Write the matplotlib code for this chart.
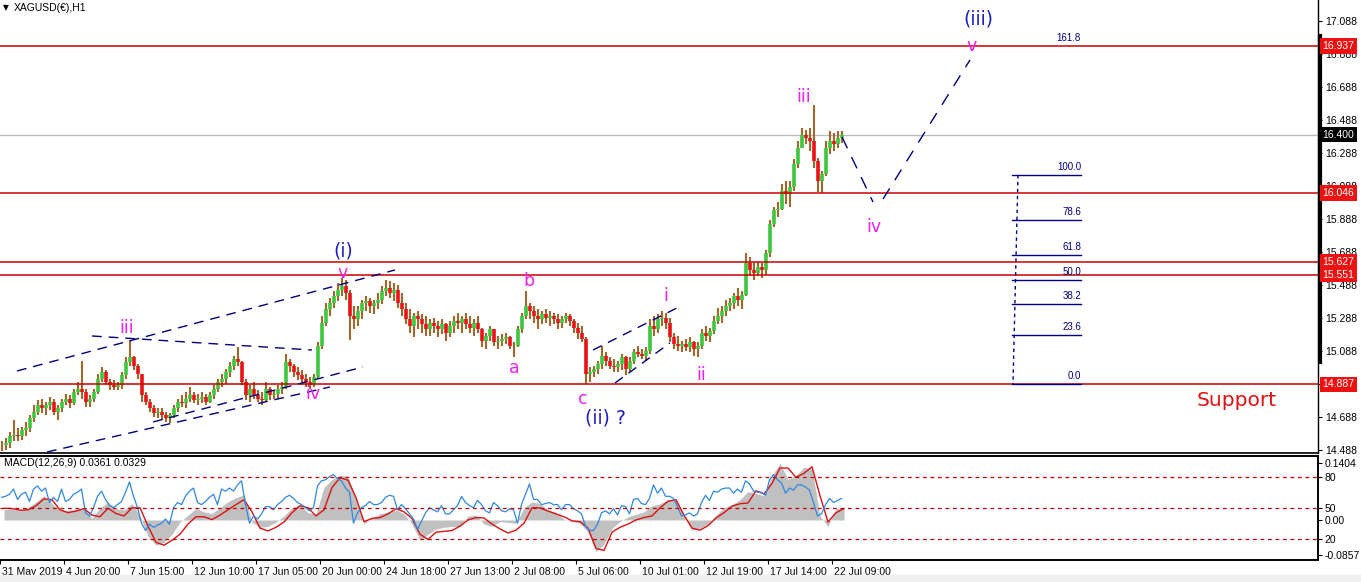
import numpy as np
import matplotlib
matplotlib.use('Agg')
import matplotlib.pyplot as plt
import matplotlib.transforms as mtransforms

# ---- price data: one entry per 4 hourly bars ----
bar_step = 4
high = [14.54, 14.56, 14.60, 14.67, 14.62, 14.63, 14.66, 14.70, 14.76, 14.79,
        14.80, 14.78, 14.81, 14.80, 14.76, 14.80, 14.83, 14.82, 14.86, 14.90,
        15.03, 14.86, 14.82, 14.86, 14.95, 14.99, 14.97, 14.92, 14.91, 14.90,
        14.96, 15.05, 15.155, 15.06, 15.01, 14.95, 14.84, 14.80, 14.76, 14.74,
        14.74, 14.72, 14.71, 14.76, 14.80, 14.82, 14.84, 14.87, 14.84, 14.83,
        14.84, 14.83, 14.84, 14.88, 14.92, 14.95, 14.98, 15.02, 15.06, 15.11,
        15.03, 14.92, 14.88, 14.90, 14.85, 14.84, 14.90, 14.87, 14.85, 14.88,
        14.90, 15.07, 15.04, 15.01, 14.99, 14.97, 14.95, 14.93, 14.95, 15.14,
        15.30, 15.38, 15.41, 15.45, 15.50, 15.53, 15.52, 15.46, 15.36, 15.36,
        15.40, 15.42, 15.41, 15.40, 15.44, 15.48, 15.52, 15.51, 15.50, 15.49,
        15.44, 15.38, 15.34, 15.32, 15.33, 15.31, 15.30, 15.28, 15.29, 15.27,
        15.28, 15.26, 15.27, 15.30, 15.32, 15.30, 15.32, 15.30, 15.28, 15.30,
        15.23, 15.20, 15.24, 15.20, 15.18, 15.19, 15.20, 15.18, 15.14, 15.24,
        15.32, 15.45, 15.38, 15.36, 15.34, 15.33, 15.34, 15.33, 15.32, 15.31,
        15.30, 15.32, 15.31, 15.28, 15.26, 15.24, 15.17, 14.99, 15.00, 15.03,
        15.12, 15.08, 15.05, 15.04, 15.03, 15.07, 15.06, 15.05, 15.10, 15.12,
        15.10, 15.11, 15.28, 15.30, 15.31, 15.33, 15.32, 15.29, 15.20, 15.18,
        15.15, 15.16, 15.17, 15.15, 15.14, 15.22, 15.24, 15.23, 15.30, 15.35,
        15.36, 15.40, 15.41, 15.44, 15.47, 15.45, 15.68, 15.66, 15.62, 15.63,
        15.62, 15.70, 15.88, 15.96, 15.99, 16.10, 16.12, 16.12, 16.25, 16.36,
        16.44, 16.43, 16.44, 16.58, 16.26, 16.18, 16.36, 16.42, 16.41, 16.42,
        16.42]
low = [14.48, 14.49, 14.50, 14.54, 14.54, 14.55, 14.57, 14.60, 14.66, 14.70,
       14.71, 14.70, 14.73, 14.70, 14.67, 14.72, 14.76, 14.74, 14.76, 14.82,
       14.80, 14.75, 14.75, 14.78, 14.83, 14.90, 14.88, 14.85, 14.85, 14.85,
       14.86, 14.92, 15.00, 14.97, 14.92, 14.78, 14.76, 14.72, 14.69, 14.68,
       14.67, 14.66, 14.65, 14.68, 14.72, 14.75, 14.74, 14.78, 14.77, 14.76,
       14.77, 14.76, 14.77, 14.80, 14.84, 14.87, 14.89, 14.93, 14.97, 15.00,
       14.88, 14.79, 14.78, 14.80, 14.78, 14.76, 14.78, 14.79, 14.80, 14.80,
       14.83, 14.86, 14.96, 14.93, 14.91, 14.88, 14.87, 14.86, 14.87, 14.92,
       15.10, 15.24, 15.30, 15.35, 15.39, 15.42, 15.40, 15.155, 15.22, 15.24,
       15.28, 15.33, 15.32, 15.31, 15.34, 15.37, 15.42, 15.41, 15.39, 15.35,
       15.30, 15.25, 15.20, 15.17, 15.22, 15.20, 15.18, 15.18, 15.20, 15.17,
       15.19, 15.15, 15.17, 15.20, 15.22, 15.20, 15.22, 15.20, 15.18, 15.20,
       15.11, 15.10, 15.15, 15.12, 15.10, 15.12, 15.13, 15.10, 15.05, 15.11,
       15.20, 15.28, 15.28, 15.26, 15.22, 15.25, 15.26, 15.24, 15.25, 15.22,
       15.23, 15.26, 15.24, 15.20, 15.16, 15.14, 14.89, 14.90, 14.93, 14.95,
       14.98, 15.00, 14.98, 14.96, 14.96, 14.97, 14.94, 14.96, 15.01, 15.05,
       15.04, 15.03, 15.07, 15.18, 15.20, 15.24, 15.22, 15.14, 15.10, 15.09,
       15.08, 15.09, 15.08, 15.06, 15.05, 15.10, 15.15, 15.14, 15.19, 15.25,
       15.26, 15.30, 15.33, 15.34, 15.36, 15.34, 15.42, 15.54, 15.52, 15.54,
       15.53, 15.55, 15.66, 15.84, 15.90, 15.94, 15.98, 15.96, 16.06, 16.20,
       16.32, 16.34, 16.30, 16.20, 16.05, 16.046, 16.15, 16.28, 16.30, 16.32,
       16.35]
close = [14.52, 14.53, 14.57, 14.58, 14.57, 14.61, 14.62, 14.68, 14.72, 14.76,
         14.74, 14.76, 14.78, 14.72, 14.74, 14.78, 14.80, 14.77, 14.84, 14.86,
         14.84, 14.78, 14.80, 14.84, 14.92, 14.96, 14.90, 14.88, 14.87, 14.88,
         14.94, 15.02, 15.05, 15.00, 14.95, 14.82, 14.78, 14.74, 14.71, 14.72,
         14.70, 14.68, 14.70, 14.74, 14.78, 14.77, 14.80, 14.82, 14.79, 14.80,
         14.81, 14.78, 14.82, 14.86, 14.90, 14.92, 14.96, 15.00, 15.04, 15.02,
         14.90, 14.82, 14.86, 14.82, 14.80, 14.79, 14.86, 14.82, 14.83, 14.86,
         14.87, 15.02, 15.00, 14.96, 14.94, 14.92, 14.90, 14.88, 14.93, 15.12,
         15.26, 15.34, 15.38, 15.42, 15.46, 15.48, 15.44, 15.30, 15.28, 15.33,
         15.38, 15.39, 15.36, 15.38, 15.40, 15.45, 15.47, 15.44, 15.46, 15.38,
         15.34, 15.28, 15.24, 15.30, 15.28, 15.25, 15.22, 15.26, 15.24, 15.22,
         15.25, 15.20, 15.24, 15.27, 15.26, 15.28, 15.25, 15.23, 15.26, 15.22,
         15.15, 15.18, 15.22, 15.14, 15.15, 15.16, 15.17, 15.12, 15.12, 15.22,
         15.30, 15.36, 15.33, 15.30, 15.28, 15.31, 15.29, 15.30, 15.28, 15.26,
         15.28, 15.30, 15.27, 15.23, 15.20, 15.16, 14.95, 14.96, 14.98, 15.01,
         15.06, 15.03, 15.00, 14.99, 15.01, 15.05, 14.98, 15.03, 15.08, 15.07,
         15.06, 15.09, 15.24, 15.22, 15.28, 15.29, 15.26, 15.17, 15.13, 15.12,
         15.13, 15.11, 15.14, 15.10, 15.12, 15.20, 15.18, 15.21, 15.27, 15.30,
         15.33, 15.36, 15.38, 15.42, 15.40, 15.43, 15.62, 15.58, 15.56, 15.60,
         15.58, 15.68, 15.86, 15.94, 15.95, 16.06, 16.04, 16.08, 16.22, 16.32,
         16.40, 16.38, 16.36, 16.24, 16.12, 16.16, 16.32, 16.36, 16.34, 16.38,
         16.40]

# MACD histogram and signal line, one value per 8 bars
macd_step = 8
macd_main = [0.025, 0.026, 0.024, 0.030, 0.045, 0.060, 0.040, 0.025, 0.024, 0.026,
             0.030, 0.004, 0.030, 0.044, 0.028, 0.025, 0.040, 0.010, -0.040, -0.062,
             -0.055, -0.035, -0.005, 0.012, 0.028, 0.020, 0.016, 0.030, 0.045, 0.055,
             0.062, -0.005, -0.018, -0.016, -0.005, 0.010, 0.030, 0.038, 0.018, 0.015,
             0.080, 0.100, 0.110, 0.108, 0.050, -0.010, 0.005, 0.015, 0.020, 0.025,
             0.015, -0.010, -0.050, -0.035, -0.022, -0.018, -0.016, -0.016, 0.010, 0.012,
             -0.010, -0.016, -0.004, -0.006, -0.008, 0.030, 0.045, 0.040, 0.025, 0.018,
             0.002, -0.004, -0.008, -0.030, -0.078, -0.060, -0.020, -0.004, 0.008, 0.014,
             0.020, 0.035, 0.040, 0.050, 0.052, 0.010, -0.025, -0.020, -0.010, 0.012,
             0.030, 0.038, 0.050, 0.070, 0.065, 0.060, 0.110, 0.140, 0.100, 0.110,
             0.130, 0.125, 0.010, -0.016, 0.028, 0.030]
macd_signal = [0.029, 0.028, 0.024, 0.025, 0.035, 0.052, 0.050, 0.025, 0.018, 0.022,
               0.028, 0.012, 0.008, 0.029, 0.016, 0.010, 0.030, 0.030, -0.015, -0.055,
               -0.062, -0.050, -0.035, -0.010, 0.008, 0.008, 0.001, 0.012, 0.025, 0.038,
               0.050, 0.020, -0.020, -0.027, -0.018, -0.005, 0.018, 0.035, 0.030, 0.010,
               0.025, 0.080, 0.104, 0.098, 0.055, -0.004, 0.004, 0.006, 0.015, 0.028,
               0.020, 0.004, -0.035, -0.048, -0.030, -0.028, -0.026, -0.015, 0.000, 0.006,
               0.005, -0.010, -0.022, -0.032, -0.025, -0.008, 0.030, 0.030, 0.022, 0.015,
               0.008, -0.002, -0.004, -0.020, -0.070, -0.075, -0.030, -0.018, -0.010, 0.000,
               0.006, 0.010, 0.030, 0.046, 0.050, 0.012, -0.020, -0.025, -0.014, 0.005,
               0.018, 0.034, 0.040, 0.042, 0.072, 0.064, 0.090, 0.128, 0.128, 0.105,
               0.115, 0.131, 0.060, -0.005, 0.018, 0.028]

# oscillator (blue) on the 0..100 scale, one value per 4 bars
osc = [60, 61, 63, 68, 58, 63, 65, 56, 68, 71, 66, 69, 55, 60, 56, 68, 56, 58, 63, 65,
       68, 45, 42, 50, 61, 66, 58, 52, 50, 53, 56, 65, 75, 61, 50, 35, 28, 34, 31, 33,
       35, 39, 34, 50, 55, 53, 61, 66, 69, 55, 53, 56, 60, 63, 53, 68, 66, 69, 66, 72,
       76, 53, 35, 42, 39, 44, 51, 51, 48, 53, 56, 60, 62, 59, 55, 53, 50, 47, 50, 71,
       76, 77, 80, 82, 78, 76, 69, 65, 35, 45, 50, 52, 56, 53, 53, 55, 60, 62, 61, 48,
       53, 49, 44, 39, 29, 37, 45, 50, 48, 46, 52, 44, 44, 48, 52, 61, 55, 52, 50, 57,
       53, 47, 45, 55, 52, 47, 46, 49, 48, 35, 53, 63, 73, 58, 58, 53, 54, 55, 53, 53,
       48, 53, 53, 49, 47, 44, 32, 28, 28, 34, 45, 47, 44, 49, 43, 52, 51, 44, 58, 59,
       54, 53, 59, 72, 64, 69, 61, 61, 59, 51, 42, 43, 45, 42, 44, 55, 62, 57, 66, 65,
       68, 69, 69, 64, 68, 65, 76, 73, 66, 65, 65, 62, 77, 82, 77, 74, 64, 69, 67, 72,
       72, 70, 67, 55, 42, 44, 53, 59, 55, 57, 59]
osc_levels = [80, 50, 20]

# horizontal levels drawn on the chart
sr_levels = [16.937, 16.046, 15.627, 15.551, 14.887]
last_price = 16.400
price_ticks = [17.088, 16.888, 16.688, 16.488, 16.288, 16.088, 15.888, 15.688,
               15.488, 15.288, 15.088, 14.888, 14.688, 14.488]

# fibonacci retracement tool
fib_zero, fib_hundred = 14.887, 16.155
fib_ratios = [0.0, 23.6, 38.2, 50.0, 61.8, 78.6, 100.0, 161.8]

# dashed trend lines (bar index, price)
trend_lines = [
    [(17, 14.967), (395, 15.579)],
    [(47, 14.476), (330, 14.870)],
    [(153, 14.658), (363, 14.991)],
    [(92, 15.179), (312, 15.094)],
    [(593, 15.094), (677, 15.349)],
    [(615, 14.894), (670, 15.137)],
]
projection = [
    [(842, 16.385), (873, 15.991)],
    [(883, 16.009), (970, 16.852)],
]

# wave labels (text, bar, price, kind)
wave_labels = [
    ('iii', 127, 15.227, 'minor'), ('v', 343, 15.561, 'minor'), ('(i)', 343, 15.694, 'major'),
    ('iv', 313, 14.827, 'minor'), ('b', 529, 15.512, 'minor'), ('a', 514, 14.985, 'minor'),
    ('c', 583, 14.797, 'minor'), ('(ii) ?', 605, 14.682, 'major'), ('i', 666, 15.421, 'minor'),
    ('ii', 701, 14.943, 'minor'), ('iii', 804, 16.627, 'minor'), ('iv', 874, 15.840, 'minor'),
    ('v', 972, 16.936, 'minor'), ('(iii)', 978, 17.100, 'major'),
]

date_ticks = [0, 64, 128, 192, 256, 320, 384, 448, 512, 576, 640, 704, 768, 832]
date_labels = ['31 May 2019', '4 Jun 20:00', '7 Jun 15:00', '12 Jun 10:00', '17 Jun 05:00',
               '20 Jun 00:00', '24 Jun 18:00', '27 Jun 13:00', '2 Jul 08:00', '5 Jul 06:00',
               '10 Jul 01:00', '12 Jul 19:00', '17 Jul 14:00', '22 Jul 09:00']

W, H = 1361, 582
fig = plt.figure(figsize=(W / 100, H / 100), dpi=100)
fig.patches.append(plt.Rectangle((0, 0), 1, 7 / H, transform=fig.transFigure,
                                 color='#F0F0F0', zorder=0))
right = 1318 / W
ax = fig.add_axes([0, 1 - 453 / H, right, 453 / H])
axm = fig.add_axes([0, 1 - 560 / H, right, 104 / H])
axo = axm.twinx()

navy = '#000080'
magenta = '#EE22EE'
wave_blue = '#1C1CC0'
red_line = '#CC0000'
small = 7.5
small_font = 'Liberation Sans'

# ---- candles ----
high = np.array(high)
low = np.array(low)
close = np.array(close)
opens = np.r_[close[0], close[:-1]]
xs = np.arange(len(close)) * bar_step + 1.5
up = close >= opens
ax.vlines(xs, low, high, color='#A0682C', lw=1.5, zorder=2)
ax.vlines(xs[up], opens[up], close[up], color='#3CC83C', lw=2.6, zorder=2.1)
ax.vlines(xs[~up], opens[~up], close[~up], color='#E81414', lw=2.6, zorder=2.1)

for lvl in sr_levels:
    ax.axhline(lvl, color=red_line, lw=1.1, zorder=3)
ax.axhline(last_price, color='#BDBDBD', lw=1.0, zorder=1)

for seg in trend_lines:
    (x0, y0), (x1, y1) = seg
    ax.plot([x0, x1], [y0, y1], color=navy, lw=1.0, dashes=(7, 5), zorder=4)
for seg in projection:
    (x0, y0), (x1, y1) = seg
    ax.plot([x0, x1], [y0, y1], color=navy, lw=1.0, dashes=(9, 7), zorder=4)

# fibonacci levels
fib_x0, fib_x1 = 1012, 1081
for r in fib_ratios:
    p = fib_zero + (fib_hundred - fib_zero) * r / 100
    if r != 161.8:
        ax.plot([fib_x0, fib_x1], [p, p], color=navy, lw=1.0, zorder=4)
    ax.text(fib_x1, p + 0.018, f'{r:.1f}', color=navy, fontsize=7, family=small_font,
            ha='right', va='bottom', zorder=5)
ax.plot([1018, 1013], [fib_hundred, fib_zero], color=navy, lw=1.0,
        dashes=(2.5, 2.5), zorder=4)

for txt, bx, pr, kind in wave_labels:
    if kind == 'minor':
        ax.text(bx, pr, txt, color=magenta, fontsize=12.5, ha='center', va='center', zorder=6)
    else:
        ax.text(bx, pr, txt, color=wave_blue, fontsize=13.5, ha='center', va='center', zorder=6)
ax.text(1237, 14.791, 'Support', color='#DD1111', fontsize=14.5, ha='center', va='center')

ax.set_xlim(0, 1318)
ax.set_ylim(14.4698, 17.2153)
for s in ['left', 'top']:
    ax.spines[s].set_visible(False)
ax.spines['right'].set_linewidth(1.0)
ax.spines['bottom'].set_linewidth(1.2)
ax.set_xticks([])
ax.yaxis.tick_right()
ax.set_yticks(price_ticks)
# the 14.888 label sits fully under the 14.887 price box
ax.set_yticklabels(['' if t == 14.888 else f'{t:.3f}' for t in price_ticks],
                   family=small_font)
ax.tick_params(axis='y', direction='out', length=3, labelsize=small, pad=2)

bt = mtransforms.blended_transform_factory(ax.transAxes, ax.transData)
ax.plot([1.0015, 1.0015], [15.02, 16.997], transform=bt, color='black', lw=3,
        clip_on=False, zorder=5)
for lvl in sr_levels:
    ax.text(1.0035, lvl, f'{lvl:.3f}', transform=bt, color='white', fontsize=small,
            family=small_font, ha='left', va='center', zorder=10, clip_on=False,
            bbox=dict(boxstyle='square,pad=0.25', fc='#EE1111', ec='none'))
ax.text(1.0035, last_price, f'{last_price:.3f}', transform=bt, color='white', fontsize=small,
        family=small_font, ha='left', va='center', zorder=10, clip_on=False,
        bbox=dict(boxstyle='square,pad=0.25', fc='black', ec='none'))

fig.text(3 / W, 1 - 8 / H, '\u25bc', fontsize=5.5, va='center')
fig.text(14 / W, 1 - 8 / H, 'XAGUSD(\u20ac),H1', fontsize=small, family=small_font,
         va='center')

# ---- MACD panel ----
mx = np.arange(len(macd_main)) * macd_step + macd_step / 2
axm.fill_between(mx, 0, macd_main, color='#C0C0C0', lw=0, zorder=1)
axm.plot(mx, macd_signal, color='#DD1111', lw=1.0, zorder=3)
axm.set_xlim(0, 1318)
axm.set_ylim(-0.0985, 0.1576)
axo.plot(np.arange(len(osc)) * bar_step + 1.5, osc, color='#2F88E0', lw=0.9, zorder=2)
for lvl in osc_levels:
    axo.axhline(lvl, color='#C00000', lw=0.9, dashes=(3, 3))
axo.set_ylim(-0.6, 100)

for a in (axm, axo):
    a.spines['left'].set_visible(False)
    for s in ['top', 'bottom', 'right']:
        a.spines[s].set_linewidth(1.2)
axm.yaxis.tick_right()
axm.set_yticks([0.1404, 0.0, -0.0857])
axm.set_yticklabels(['0.1404', '0.00', '-0.0857'], family=small_font)
axo.set_yticks(osc_levels)
axo.set_yticklabels([str(v) for v in osc_levels], family=small_font)
for a in (axm, axo):
    a.tick_params(axis='y', direction='out', length=3, labelsize=small, pad=1.5)

axm.set_xticks(date_ticks)
axm.set_xticklabels(date_labels, ha='left', family=small_font)
axm.tick_params(axis='x', direction='out', length=3, labelsize=small, pad=2)
offset = mtransforms.ScaledTranslation(2 / 100, 0, fig.dpi_scale_trans)
for lab in axm.get_xticklabels():
    lab.set_transform(lab.get_transform() + offset)

axm.text(4 / 1318, 0.93, 'MACD(12,26,9) 0.0361 0.0329', transform=axm.transAxes,
         fontsize=small, family=small_font, va='center', ha='left')

fig.savefig('out.png', dpi=100)
